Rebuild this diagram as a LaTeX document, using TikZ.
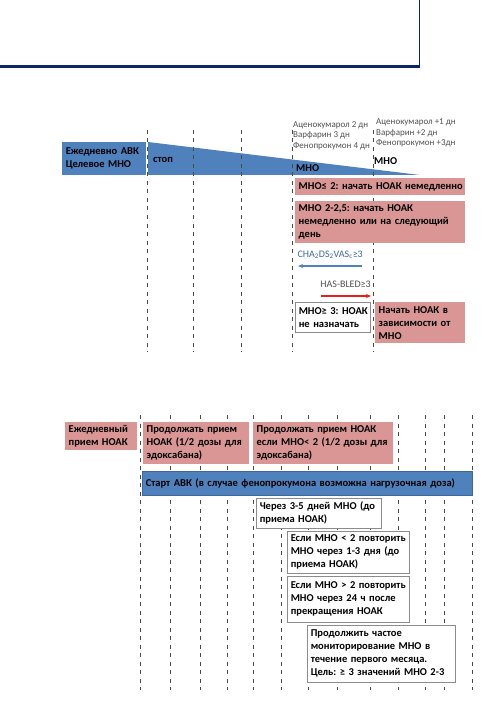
\documentclass[tikz,border=0pt]{standalone}
\usepackage{fontspec}
\setmainfont{Carlito}
\usetikzlibrary{arrows.meta}
\frenchspacing
\definecolor{navyc}{RGB}{10,40,100}
\definecolor{bluec}{RGB}{79,129,189}
\definecolor{pinkc}{RGB}{217,150,148}
\definecolor{dashc}{RGB}{75,75,60}
\definecolor{greyt}{RGB}{80,80,80}
\definecolor{arrblue}{RGB}{79,129,189}
\definecolor{arrred}{RGB}{230,30,30}
\newcommand\keepline[1]{\mbox{#1}}
\tikzset{
  dashline/.style={draw=dashc, line width=1pt, dash pattern=on 4pt off 4.5pt},
  boxbase/.style={anchor=north west, inner xsep=3.5pt, inner ysep=0pt, align=left, font=\frenchspacing\bfseries\fontsize{10.5}{13}\selectfont},
  pinkbox/.style={boxbase, fill=pinkc, draw=none},
  bluebox/.style={boxbase, fill=bluec, draw=bluec!80!black, line width=0.5pt},
  whitebox/.style={boxbase, fill=white, draw=black!45, line width=0.5pt},
  greytext/.style={anchor=north west, inner sep=0pt, align=left, text=greyt, font=\fontsize{9}{10.5}\selectfont},
  plainlabel/.style={anchor=west, inner sep=0pt, font=\bfseries\fontsize{10.5}{12}\selectfont},
  scorelabel/.style={anchor=east, inner sep=0pt, font=\fontsize{10}{12}\selectfont}
}
\begin{document}
\begin{tikzpicture}[x=1pt,y=-1pt]
\useasboundingbox (0,0) rectangle (484,719);
% title rule
\draw[navyc, line width=3pt] (0,67) -- (420,67);
\draw[navyc, line width=1pt] (419.5,0) -- (419.5,67);

% ===== top diagram =====
\node[bluebox, draw=none, minimum width=84pt, minimum height=33pt, text width=77pt] (avk) at (62,142) {Ежедневно АВК\\Целевое МНО};
\fill[bluec] (148,142) -- (420,175) -- (148,175) -- cycle;
\foreach \x in {147,193,241,292,373} \draw[dashline] (\x,130) -- (\x,352);
\node[plainlabel] (stop) at (153,160) {стоп};
\node[plainlabel] (mno1) at (296,168) {МНО};
\node[plainlabel] (mno2) at (374,161) {МНО};
\node[greytext] (days1) at (293,121) {Аценокумарол 2 дн\\Варфарин 3 дн\\Фенопрокумон 4 дн};
\node[greytext] (days2) at (376,119) {Аценокумарол +1 дн\\Варфарин +2 дн\\Фенопрокумон +3дн};

\node[pinkbox, minimum width=170pt, minimum height=17pt, text width=163pt] (p1) at (295,178) {\keepline{МНО≤ 2: начать НОАК немедленно}};
\node[pinkbox, minimum width=170pt, minimum height=42pt, text width=163pt] (p2) at (295,201) {МНО 2-2,5: начать НОАК\\немедленно или на следующий\\день};

\node[scorelabel, text=arrblue!80!black] (cha) at (363,255) {CHA\textsubscript{2}DS\textsubscript{2}VAS\textsubscript{c}≥3};
\coordinate (chaS) at (362,266);
\coordinate (chaE) at (298,266);
\draw[arrblue, line width=1.2pt, -{Stealth[length=5pt,width=4pt]}] (chaS) -- (chaE);
\node[scorelabel, text=greyt] (has) at (371,284) {HAS-BLED≥3};
\coordinate (hasS) at (321,296);
\coordinate (hasE) at (371,296);
\draw[arrred, line width=1.2pt, -{Stealth[length=5pt,width=4pt]}] (hasS) -- (hasE);

\node[whitebox, minimum width=74pt, minimum height=30pt, text width=68pt] (w0) at (295,302) {\keepline{МНО≥ 3: НОАК}\\не назначать};
\node[pinkbox, minimum width=90pt, minimum height=41pt, text width=83pt] (p3) at (375,302) {Начать НОАК в\\зависимости от\\МНО};

% ===== bottom diagram =====
\foreach \x in {140,170,200,227,253,281,308,337,370,398,425,444,472} \draw[dashline] (\x,415) -- (\x,690);
\node[pinkbox, minimum width=72pt, minimum height=28pt, text width=65pt] (pa) at (65,422) {Ежедневный\\прием НОАК};
\node[pinkbox, minimum width=106pt, minimum height=42pt, text width=99pt] (pb) at (143,422) {Продолжать прием\\НОАК (1/2 дозы для\\эдоксабана)};
\node[pinkbox, minimum width=140pt, minimum height=42pt, text width=133pt] (pc) at (253,422) {Продолжать прием НОАК\\\keepline{если МНО< 2 (1/2 дозы для}\\эдоксабана)};
\node[bluebox, minimum width=330pt, minimum height=24pt, text width=323pt] (start) at (142,471) {Старт АВК (в случае фенопрокумона возможна нагрузочная доза)};
\node[whitebox, minimum width=125pt, minimum height=30pt, text width=118pt] (wa) at (256,498) {Через 3-5 дней МНО (до\\приема НОАК)};
\node[whitebox, minimum width=122pt, minimum height=42pt, text width=115pt] (wb) at (287,531) {\keepline{Если МНО < 2 повторить}\\МНО через 1-3 дня (до\\приема НОАК)};
\node[whitebox, minimum width=122pt, minimum height=46pt, text width=115pt] (wc) at (287,576) {\keepline{Если МНО > 2 повторить}\\МНО через 24 ч после\\прекращения НОАК};
\node[whitebox, minimum width=148pt, minimum height=57pt, text width=141pt] (wd) at (307,625) {Продолжить частое\\мониторирование МНО в\\течение первого месяца.\\\keepline{Цель: ≥ 3 значений МНО 2-3}};
\end{tikzpicture}
\end{document}
